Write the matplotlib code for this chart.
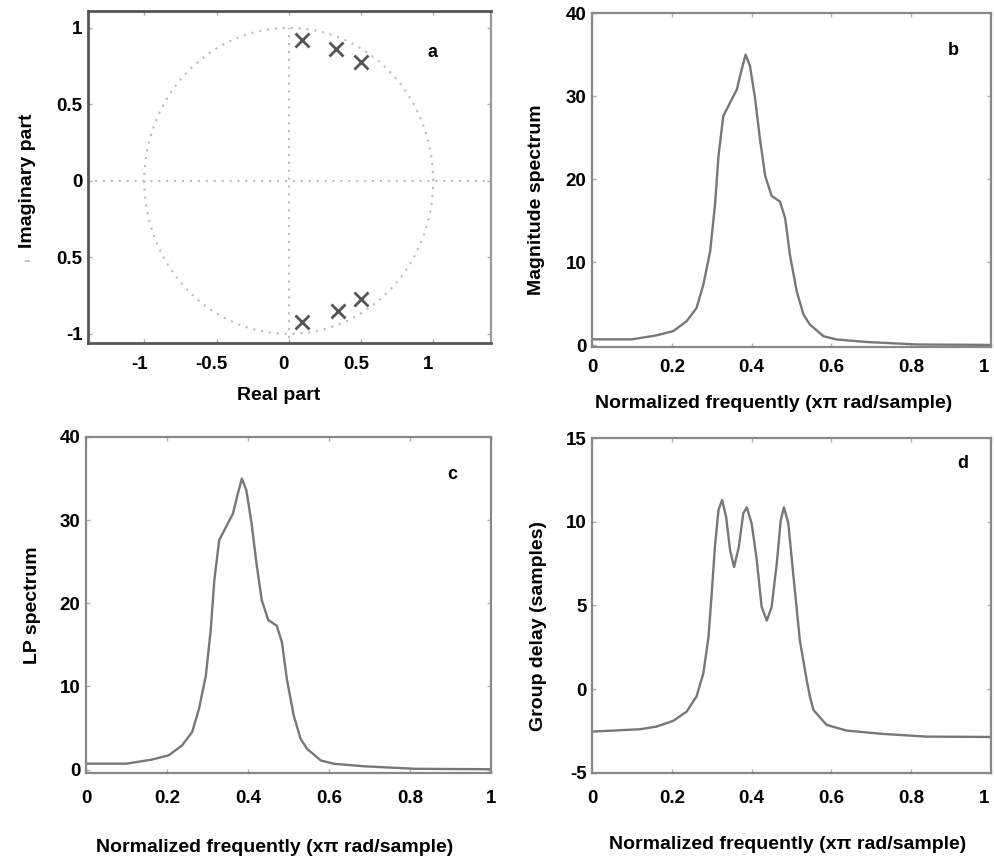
import numpy as np
import matplotlib.pyplot as plt
from matplotlib.transforms import ScaledTranslation

plt.rcParams['font.family'] = ['Liberation Sans', 'DejaVu Sans']
plt.rcParams['font.weight'] = 'bold'
plt.rcParams['axes.unicode_minus'] = False

# pole locations (panel a)
pole_re = [0.09, 0.33, 0.50, 0.09, 0.34, 0.50]
pole_im = [0.92, 0.86, 0.78, -0.92, -0.85, -0.77]

# magnitude / LP spectrum (panels b, c)
spec_f = [0.0, 0.10, 0.162, 0.204, 0.237, 0.262, 0.279, 0.296, 0.308, 0.317,
          0.329, 0.346, 0.363, 0.375, 0.385, 0.396, 0.409, 0.421, 0.434, 0.450,
          0.471, 0.484, 0.496, 0.513, 0.530, 0.546, 0.580, 0.613, 0.688, 0.814,
          1.0]
spec_v = [0.72, 0.72, 1.2, 1.72, 2.9, 4.5, 7.3, 11.3, 16.8, 22.8,
          27.6, 29.2, 30.8, 33.2, 35.0, 33.6, 29.6, 24.8, 20.4, 18.0,
          17.3, 15.3, 10.9, 6.5, 3.7, 2.5, 1.1, 0.7, 0.4, 0.1,
          0.05]

# group delay (panel d)
gd_f = [0.0, 0.12, 0.162, 0.204, 0.237, 0.262, 0.279, 0.292, 0.300, 0.308,
        0.317, 0.326, 0.336, 0.346, 0.356, 0.368, 0.379, 0.388, 0.400, 0.413,
        0.425, 0.438, 0.450, 0.463, 0.473, 0.481, 0.492, 0.505, 0.521, 0.538,
        0.546, 0.555, 0.588, 0.638, 0.73, 0.839, 1.0]
gd_v = [-2.53, -2.39, -2.23, -1.88, -1.34, -0.43, 0.95, 3.14, 5.73, 8.51,
        10.7, 11.3, 10.3, 8.3, 7.3, 8.5, 10.5, 10.86, 9.9, 7.7,
        4.93, 4.1, 4.9, 7.5, 10.1, 10.86, 9.9, 6.7, 2.9, 0.55,
        -0.43, -1.24, -2.13, -2.47, -2.67, -2.83, -2.85]

freq_ticks = [0, 0.2, 0.4, 0.6, 0.8, 1]
freq_labels = ['0', '0.2', '0.4', '0.6', '0.8', '1']
xlab = 'Normalized frequently (x\u03c0 rad/sample)'

fig = plt.figure(figsize=(9.94, 8.58), dpi=100)
ax_a = fig.add_axes([0.0885, 0.6002, 0.4054, 0.3869])
ax_b = fig.add_axes([0.5956, 0.5956, 0.4014, 0.3892])
ax_c = fig.add_axes([0.0865, 0.0991, 0.4074, 0.3916])
ax_d = fig.add_axes([0.5956, 0.0991, 0.4014, 0.3904])

line_col = '#777777'
dot_col = '#bbbbbb'
fs_tick = 13.5
fs_lab = 14
fs_tag = 13


def style(ax, xpad):
    for s in ax.spines.values():
        s.set_color('#888888')
        s.set_linewidth(1.6)
    ax.tick_params(direction='in', length=3, width=1, color='#aaaaaa',
                   top=True, right=True, labelsize=fs_tick)
    ax.tick_params(axis='x', pad=xpad)
    ax.tick_params(axis='y', pad=4)


def shift_labels(ax, labels, px):
    off = ScaledTranslation(px / 100, 0, fig.dpi_scale_trans)
    for lab in labels:
        lab.set_transform(lab.get_transform() + off)


# panel a: pole-zero plot
th = np.linspace(0, 2 * np.pi, 300)
ax_a.plot(np.cos(th), np.sin(th), color=dot_col, lw=1.5, dashes=(1, 2.8))
ax_a.plot([-1.4, 1.4], [0, 0], color=dot_col, lw=1.5, dashes=(1, 2.8))
ax_a.plot([0, 0], [-1.03, 1.0], color=dot_col, lw=1.5, dashes=(1, 2.8))
ax_a.plot(pole_re, pole_im, 'x', color='#555555', ms=10, mew=2)
ax_a.set_xlim(-1.39, 1.40)
ax_a.set_ylim(-1.06, 1.11)
ax_a.set_xticks([-1, -0.5, 0, 0.5, 1])
ax_a.set_xticklabels(['-1', '-0.5', '0', '0.5', '1'])
ax_a.set_yticks([-1, -0.5, 0, 0.5, 1])
ax_a.set_yticklabels(['-1', '0.5', '0', '0.5', '1'])
style(ax_a, 9)
shift_labels(ax_a, ax_a.get_xticklabels(), -5)
for k in ['left', 'top', 'bottom']:
    ax_a.spines[k].set_color('#555555')
    ax_a.spines[k].set_linewidth(2)
ax_a.spines['right'].set_color('#999999')
ax_a.set_xlabel('Real part', fontsize=fs_lab, fontweight='bold', va='center')
ax_a.xaxis.set_label_coords(0.474, -0.157)
ax_a.set_ylabel('Imaginary part', fontsize=fs_lab, fontweight='bold', va='center')
ax_a.yaxis.set_label_coords(-0.151, 0.488)
ax_a.text(0.856, 0.874, 'a', transform=ax_a.transAxes, fontsize=fs_tag,
          fontweight='bold', ha='center', va='center')
fig.text(27 / 994, 1 - 261 / 858, '-', color=dot_col, fontsize=14,
         ha='center', va='center')

# panel b: magnitude spectrum
ax_b.plot(spec_f, spec_v, color=line_col, lw=1.7)
ax_b.set_xlim(0, 1)
ax_b.set_ylim(-0.2, 40)
ax_b.set_xticks(freq_ticks)
ax_b.set_xticklabels(freq_labels)
ax_b.set_yticks([0, 10, 20, 30, 40])
style(ax_b, 9)
shift_labels(ax_b, ax_b.get_xticklabels()[-1:], -7)
ax_b.set_xlabel(xlab, fontsize=fs_lab, fontweight='bold', va='center')
ax_b.xaxis.set_label_coords(0.454, -0.170)
ax_b.set_ylabel('Magnitude spectrum', fontsize=fs_lab, fontweight='bold', va='center')
ax_b.yaxis.set_label_coords(-0.138, 0.442)
ax_b.text(0.905, 0.887, 'b', transform=ax_b.transAxes, fontsize=fs_tag,
          fontweight='bold', ha='center', va='center')

# panel c: LP spectrum
ax_c.plot(spec_f, spec_v, color=line_col, lw=1.7)
ax_c.set_xlim(0, 1)
ax_c.set_ylim(-0.4, 40)
ax_c.set_xticks(freq_ticks)
ax_c.set_xticklabels(freq_labels)
ax_c.set_yticks([0, 10, 20, 30, 40])
style(ax_c, 12)
ax_c.set_xlabel(xlab, fontsize=fs_lab, fontweight='bold', va='center')
ax_c.xaxis.set_label_coords(0.467, -0.223)
ax_c.set_ylabel('LP spectrum', fontsize=fs_lab, fontweight='bold', va='center')
ax_c.yaxis.set_label_coords(-0.133, 0.5)
ax_c.text(0.904, 0.887, 'c', transform=ax_c.transAxes, fontsize=fs_tag,
          fontweight='bold', ha='center', va='center')

# panel d: group delay
ax_d.plot(gd_f, gd_v, color=line_col, lw=1.7)
ax_d.set_xlim(0, 1)
ax_d.set_ylim(-5, 15)
ax_d.set_xticks(freq_ticks)
ax_d.set_xticklabels(freq_labels)
ax_d.set_yticks([-5, 0, 5, 10, 15])
style(ax_d, 12)
shift_labels(ax_d, ax_d.get_xticklabels()[-1:], -7)
ax_d.set_xlabel(xlab, fontsize=fs_lab, fontweight='bold', va='center')
ax_d.xaxis.set_label_coords(0.489, -0.215)
ax_d.set_ylabel('Group delay (samples)', fontsize=fs_lab, fontweight='bold', va='center')
ax_d.yaxis.set_label_coords(-0.135, 0.439)
ax_d.text(0.93, 0.924, 'd', transform=ax_d.transAxes, fontsize=fs_tag,
          fontweight='bold', ha='center', va='center')

plt.savefig('out.png', dpi=100)
